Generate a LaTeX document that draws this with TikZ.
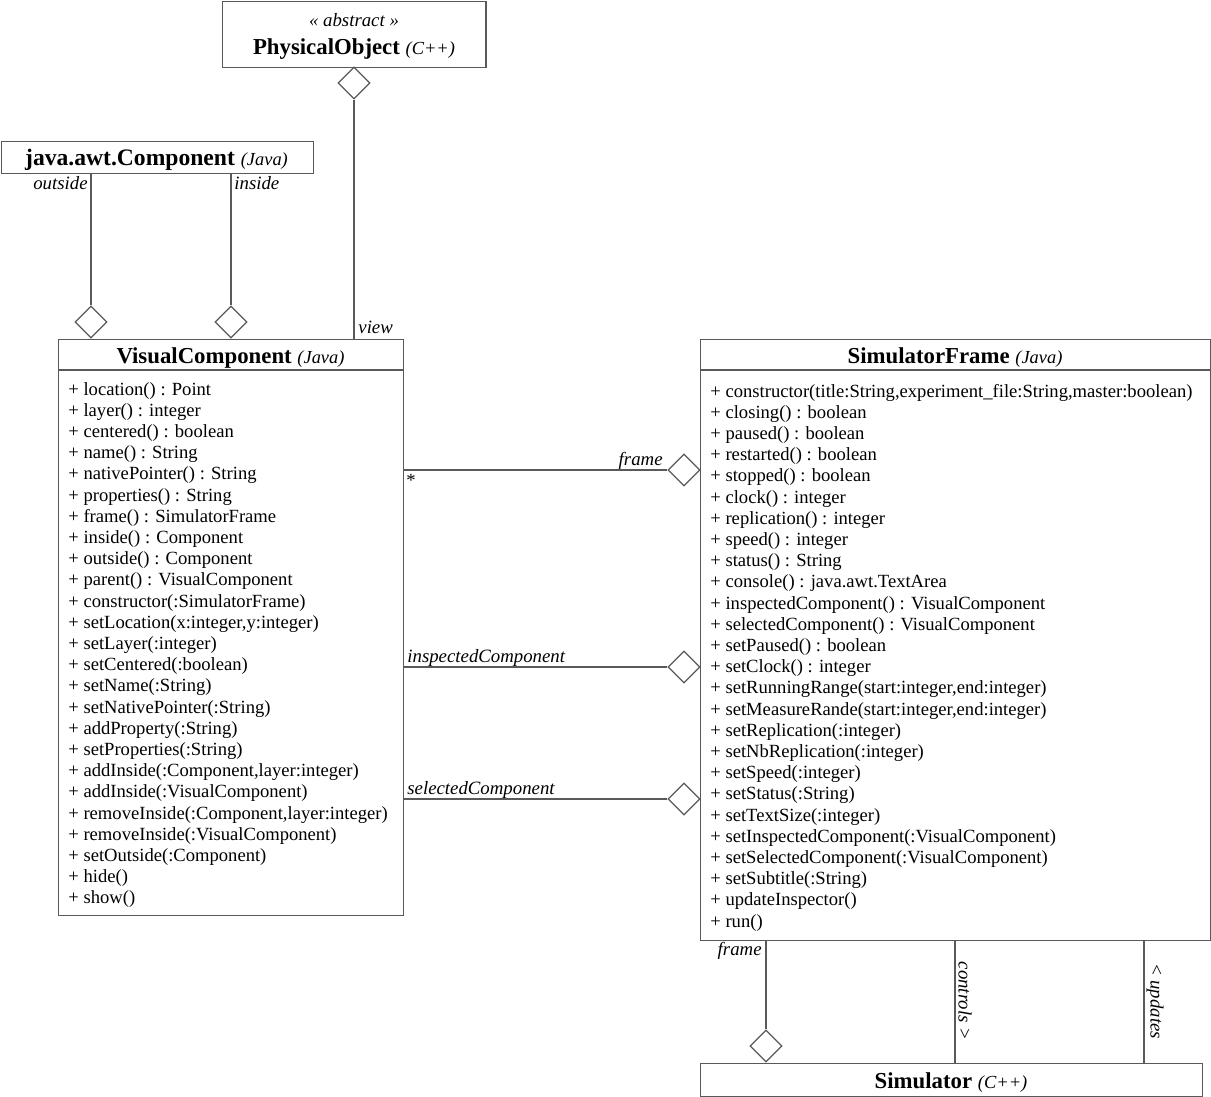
\documentclass[tikz,border=0pt]{standalone}
\usepackage{fontspec}
\setmainfont{Liberation Serif}
\usetikzlibrary{shapes.geometric}
\newcommand\langtxt[1]{{\fontsize{9.2}{11}\selectfont\mdseries\itshape #1}}
\begin{document}
\begin{tikzpicture}[x=0.5pt,y=-0.5pt,
  line/.style={draw=black!65,line width=0.6pt},
  box/.style={draw=black!65,line width=0.6pt,anchor=north west,inner sep=0pt},
  dia/.style={diamond,draw=black!65,line width=0.6pt,fill=white,minimum width=16pt,minimum height=16pt,inner sep=0pt},
  meth/.style={anchor=base west,inner sep=0pt,font=\fontsize{9.3}{11}\selectfont},
  ttl/.style={anchor=base,inner sep=0pt,font=\fontsize{11.4}{13}\selectfont\bfseries},
  lbl/.style={inner sep=0pt,font=\fontsize{9.4}{11}\selectfont\itshape}
]
\useasboundingbox (0,0) rectangle (1211,1097);
% boxes
\node[box,minimum width=131.7pt,minimum height=33.2pt] (po) at (222,0.6) {};
\node[box,minimum width=156.2pt,minimum height=16pt] (jac) at (0.6,141) {};
\node[box,minimum width=172.5pt,minimum height=288pt] (vc) at (58,339) {};
\node[box,minimum width=255pt,minimum height=300.5pt] (sf) at (700,339) {};
\node[box,minimum width=251pt,minimum height=16.4pt] (sim) at (700,1063) {};
\draw[line] ([yshift=-15.5pt]vc.north west) -- ([yshift=-15.5pt]vc.north east);
\draw[line] ([yshift=-15.5pt]sf.north west) -- ([yshift=-15.5pt]sf.north east);
% titles
\node[lbl,anchor=base] (poster) at (354,27) {« abstract »};
\node[ttl] (potitle) at (354,55) {PhysicalObject \langtxt{(C++)}};
\node[ttl,font=\fontsize{11.8}{13}\selectfont\bfseries] (jactitle) at (156.5,166) {java.awt.Component \langtxt{(Java)}};
\node[ttl] (vctitle) at (230.5,363) {VisualComponent \langtxt{(Java)}};
\node[ttl] (sftitle) at (955,363) {SimulatorFrame \langtxt{(Java)}};
\node[ttl] (simtitle) at (951,1088) {Simulator \langtxt{(C++)}};
% methods
\foreach \t [count=\i] in {{+ location() : Point},{+ layer() : integer},{+ centered() : boolean},{+ name() : String},{+ nativePointer() : String},{+ properties() : String},{+ frame() : SimulatorFrame},{+ inside() : Component},{+ outside() : Component},{+ parent() : VisualComponent},{+ constructor(:SimulatorFrame)},{+ setLocation(x:integer,y:integer)},{+ setLayer(:integer)},{+ setCentered(:boolean)},{+ setName(:String)},{+ setNativePointer(:String)},{+ addProperty(:String)},{+ setProperties(:String)},{+ addInside(:Component,layer:integer)},{+ addInside(:VisualComponent)},{+ removeInside(:Component,layer:integer)},{+ removeInside(:VisualComponent)},{+ setOutside(:Component)},{+ hide()},{+ show()}}
  \node[meth] (vm\i) at (68,{395+(\i-1)*21.2}) {\t};
\foreach \t [count=\i] in {{+ constructor(title:String,experiment\_file:String,master:boolean)},{+ closing() : boolean},{+ paused() : boolean},{+ restarted() : boolean},{+ stopped() : boolean},{+ clock() : integer},{+ replication() : integer},{+ speed() : integer},{+ status() : String},{+ console() : java.awt.TextArea},{+ inspectedComponent() : VisualComponent},{+ selectedComponent() : VisualComponent},{+ setPaused() : boolean},{+ setClock() : integer},{+ setRunningRange(start:integer,end:integer)},{+ setMeasureRande(start:integer,end:integer)},{+ setReplication(:integer)},{+ setNbReplication(:integer)},{+ setSpeed(:integer)},{+ setStatus(:String)},{+ setTextSize(:integer)},{+ setInspectedComponent(:VisualComponent)},{+ setSelectedComponent(:VisualComponent)},{+ setSubtitle(:String)},{+ updateInspector()},{+ run()}}
  \node[meth] (sm\i) at (710,{397+(\i-1)*21.2}) {\t};
% diamonds
\node[dia] (dpo) at (354,83) {};
\node[dia] (dout) at (91,322) {};
\node[dia] (din) at (231,322) {};
\node[dia] (dfr) at (684,470) {};
\node[dia] (dins) at (684,667) {};
\node[dia] (dsel) at (684,799) {};
\node[dia] (dsim) at (766,1046) {};
% connectors
\draw[line] (dpo.south) -- (dpo.south |- vc.north);
\draw[line] (dout.north) -- (dout.north |- jac.south);
\draw[line] (din.north) -- (din.north |- jac.south);
\draw[line] (dfr.west) -- (dfr.west -| vc.east);
\draw[line] (dins.west) -- (dins.west -| vc.east);
\draw[line] (dsel.west) -- (dsel.west -| vc.east);
\draw[line] (dsim.north) -- (dsim.north |- sf.south);
\coordinate (ctl) at (955,1000);
\coordinate (upd) at (1144,1000);
\draw[line] (ctl |- sf.south) -- (ctl |- sim.north);
\draw[line] (upd |- sf.south) -- (upd |- sim.north);
% labels
\node[lbl,anchor=base east] (lout) at (88,190) {outside};
\node[lbl,anchor=base west] (lin) at (234,190) {inside};
\node[lbl,anchor=base west] (lview) at (358,333) {view};
\node[lbl,anchor=base east] (lfr) at (663,465) {frame};
\node[inner sep=0pt,font=\fontsize{9.3}{11}\selectfont] (lstar) at (411,480) {*};
\node[lbl,anchor=base west] (lins) at (407,662) {inspectedComponent};
\node[lbl,anchor=base west] (lsel) at (407,794) {selectedComponent};
\node[lbl,anchor=base east] (lfr2) at (762,955) {frame};
\node[lbl,rotate=-90,anchor=south] (lctl) at (958,1001) {controls >};
\node[lbl,rotate=-90,anchor=north] (lupd) at (1164,1001) {< updates};
\end{tikzpicture}
\end{document}
